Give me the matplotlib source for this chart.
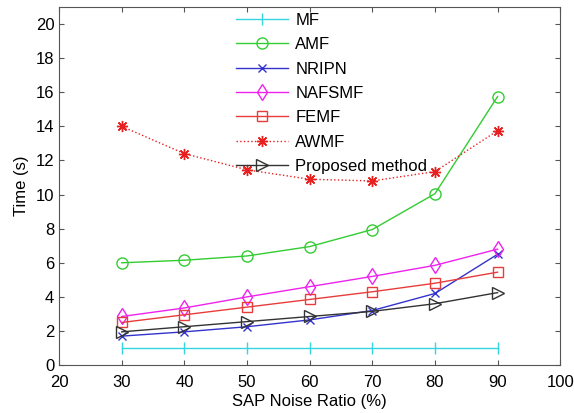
import matplotlib.pyplot as plt

plt.rcParams['font.family'] = ['Liberation Sans', 'DejaVu Sans']

noise = [30, 40, 50, 60, 70, 80, 90]
mf = [1.0, 1.0, 1.0, 1.0, 1.0, 1.0, 1.0]
amf = [6.0, 6.15, 6.4, 6.95, 7.95, 10.05, 15.75]
nripn = [1.7, 1.95, 2.25, 2.65, 3.2, 4.2, 6.5]
nafsmf = [2.85, 3.35, 4.0, 4.6, 5.2, 5.85, 6.8]
femf = [2.5, 2.95, 3.4, 3.85, 4.3, 4.8, 5.45]
awmf = [14.0, 12.4, 11.45, 10.9, 10.8, 11.35, 13.75]
proposed = [1.95, 2.25, 2.55, 2.85, 3.15, 3.6, 4.25]

fig = plt.figure(figsize=(5.74, 4.13), dpi=100)
ax = fig.add_axes([0.103, 0.116, 0.873, 0.867])

ax.plot(noise, mf, color='#33d6e0', marker='|', ms=8, lw=1, label='MF')
ax.plot(noise, amf, color='#33cc33', marker='o', ms=8, mfc='none', lw=1, label='AMF')
ax.plot(noise, nripn, color='#3333cc', marker='x', ms=6, lw=1, label='NRIPN')
ax.plot(noise, nafsmf, color='#ee22ee', marker='d', ms=8, mfc='none', lw=1, label='NAFSMF')
ax.plot(noise, femf, color='#e83c3c', marker='s', ms=7, mfc='none', lw=1, label='FEMF')
ax.plot(noise, awmf, color='#e82020', marker=(8, 2, 0), ms=8, ls=':', lw=1, label='AWMF')
ax.plot(noise, proposed, color='#333333', marker='>', ms=8, mfc='none', lw=1, label='Proposed method')

ax.set_xlim(20, 100)
ax.set_ylim(0, 21)
ax.set_xticks(range(20, 101, 10))
ax.set_yticks(range(0, 21, 2))
ax.tick_params(direction='in', top=True, right=True, labelsize=12, color='#555555')
ax.tick_params(axis='x', pad=7)
for s in ax.spines.values():
    s.set_color('#555555')
ax.set_xlabel('SAP Noise Ratio (%)', fontsize=12, labelpad=3)
ax.set_ylabel('Time (s)', fontsize=12, labelpad=5)

leg = ax.legend(loc='upper left', bbox_to_anchor=(0.345, 0.995), fontsize=12,
                frameon=False, handlelength=3.1, handletextpad=0.45,
                labelspacing=0.56, borderpad=0.25, borderaxespad=0)

fig.savefig('out.png')
